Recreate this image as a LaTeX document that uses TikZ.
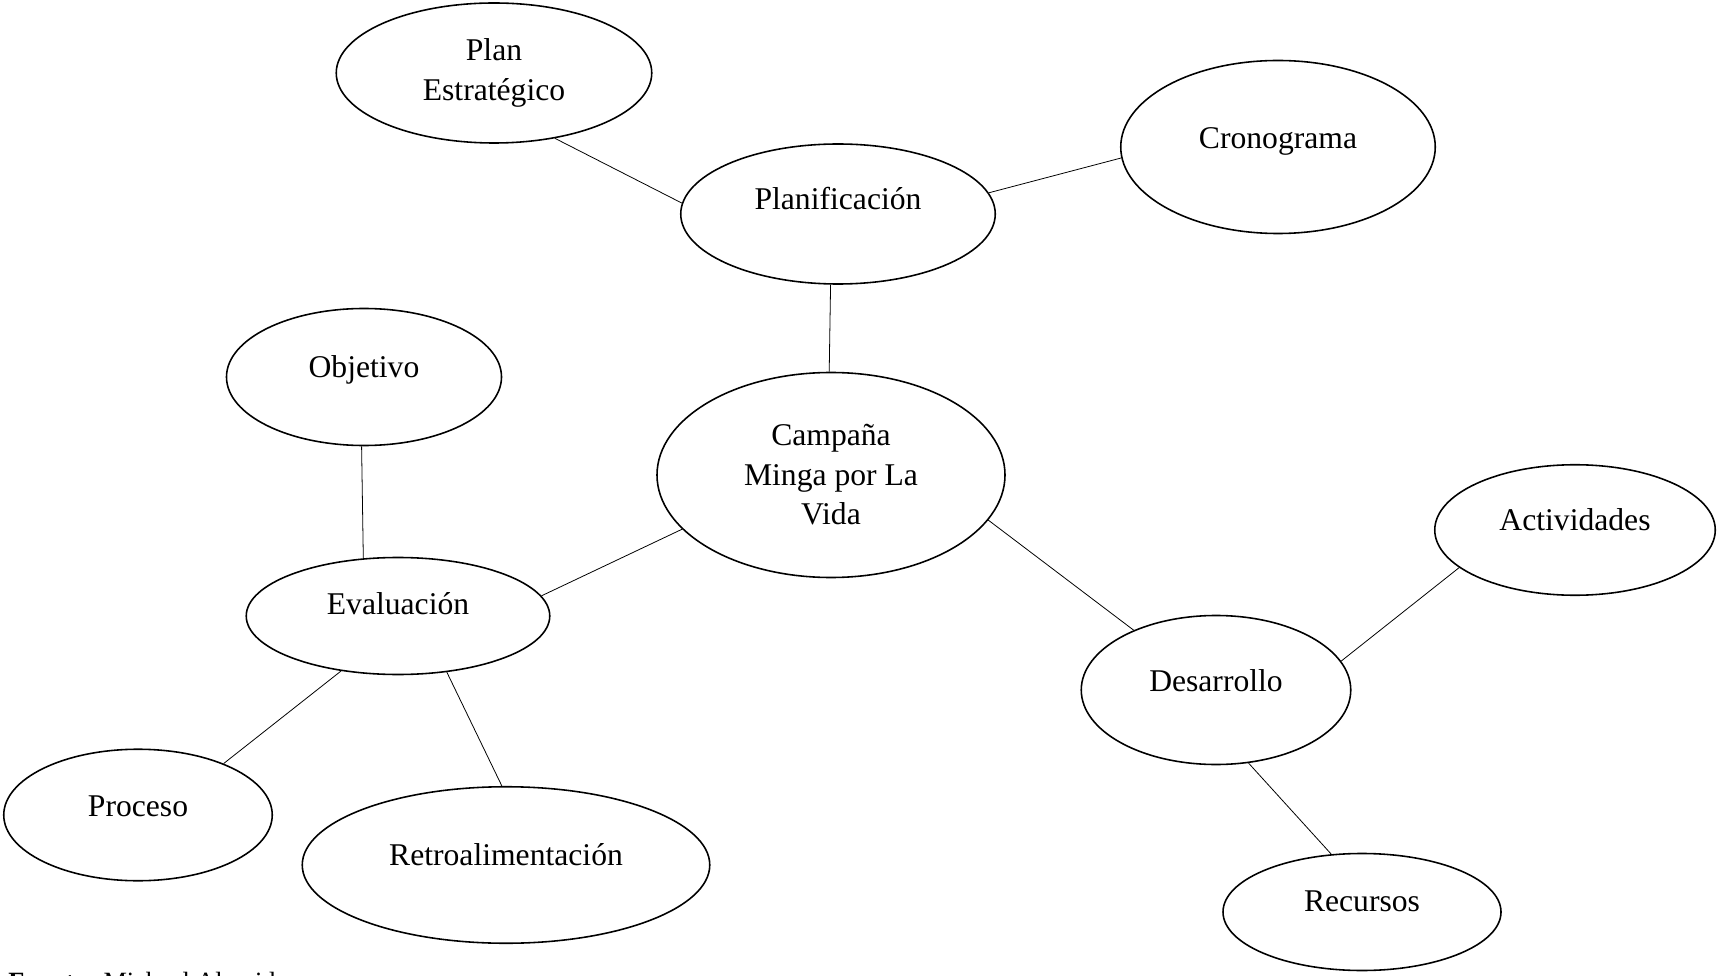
\documentclass[tikz,border=0pt]{standalone}
\usepackage{fontspec}
\setmainfont{Liberation Serif}
\usepackage{tikz}
\usetikzlibrary{shapes.geometric}

\begin{document}
\begin{tikzpicture}[
  x=0.2mm, y=-0.2mm,
  font=\fontsize{18}{22.5}\selectfont,
  bubble/.style={ellipse, draw=black, line width=0.9pt, fill=white,
                 inner sep=0pt, align=center},
  lift/.style={text depth=#1},
  link/.style={draw=black, line width=0.45pt}
]
\useasboundingbox (0,0) rectangle (1717,976);

% ============ CENTRE ============
\node[bubble, minimum width=69.6mm, minimum height=41mm] (camp) at (831,475) {Campaña\\Minga por La\\Vida};

% ============ PLANIFICACION BRANCH ============
\node[bubble, minimum width=62.9mm, minimum height=28mm, lift=6.4mm] (planif) at (838,214) {Planificación};
\node[bubble, minimum width=63.1mm, minimum height=28mm] (plan) at (494,73) {Plan\\Estratégico};
\node[bubble, minimum width=62.9mm, minimum height=34.6mm, lift=3.6mm] (crono) at (1278,147) {Cronograma};

\draw[link] (plan.-47) -- (planif.176);
\draw[link] (planif.8) -- (crono.184);
\draw[link] (planif.264) -- (camp.91);

% ============ EVALUACION BRANCH ============
\node[bubble, minimum width=60.7mm, minimum height=23.4mm, lift=4.8mm] (eval) at (398,616) {Evaluación};
\node[bubble, minimum width=55mm, minimum height=27.4mm, lift=4mm] (obj) at (364,377) {Objetivo};
\node[bubble, minimum width=53.7mm, minimum height=26.3mm, lift=3.6mm] (proc) at (138,815) {Proceso};
\node[bubble, minimum width=81.5mm, minimum height=31.3mm, lift=4.4mm] (retro) at (506,865) {Retroalimentación};

\draw[link] (camp.200) -- (eval.8);
\draw[link] (obj.268) -- (eval.121);
\draw[link] (eval.224) -- (proc.31);
\draw[link] (eval.311) -- (retro.93);

% ============ DESARROLLO BRANCH ============
\node[bubble, minimum width=53.9mm, minimum height=29.8mm, lift=3.6mm] (desa) at (1216,690) {Desarrollo};
\node[bubble, minimum width=56.1mm, minimum height=26.1mm, lift=4mm] (activ) at (1575,530) {Actividades};
\node[bubble, minimum width=55.6mm, minimum height=23.4mm, lift=4.4mm] (recur) at (1362,912) {Recursos};

\draw[link] (camp.344) -- (desa.144);
\draw[link] (desa.13) -- (activ.198);
\draw[link] (desa.294) -- (recur.118);

% ============ SOURCE LINE (cut by the page edge) ============
\node[anchor=base west, inner sep=0pt, font=\fontsize{15}{18}\selectfont] (src) at (8,990)
  {\textbf{Fuente:} Michael Almeida};

\end{tikzpicture}
\end{document}
